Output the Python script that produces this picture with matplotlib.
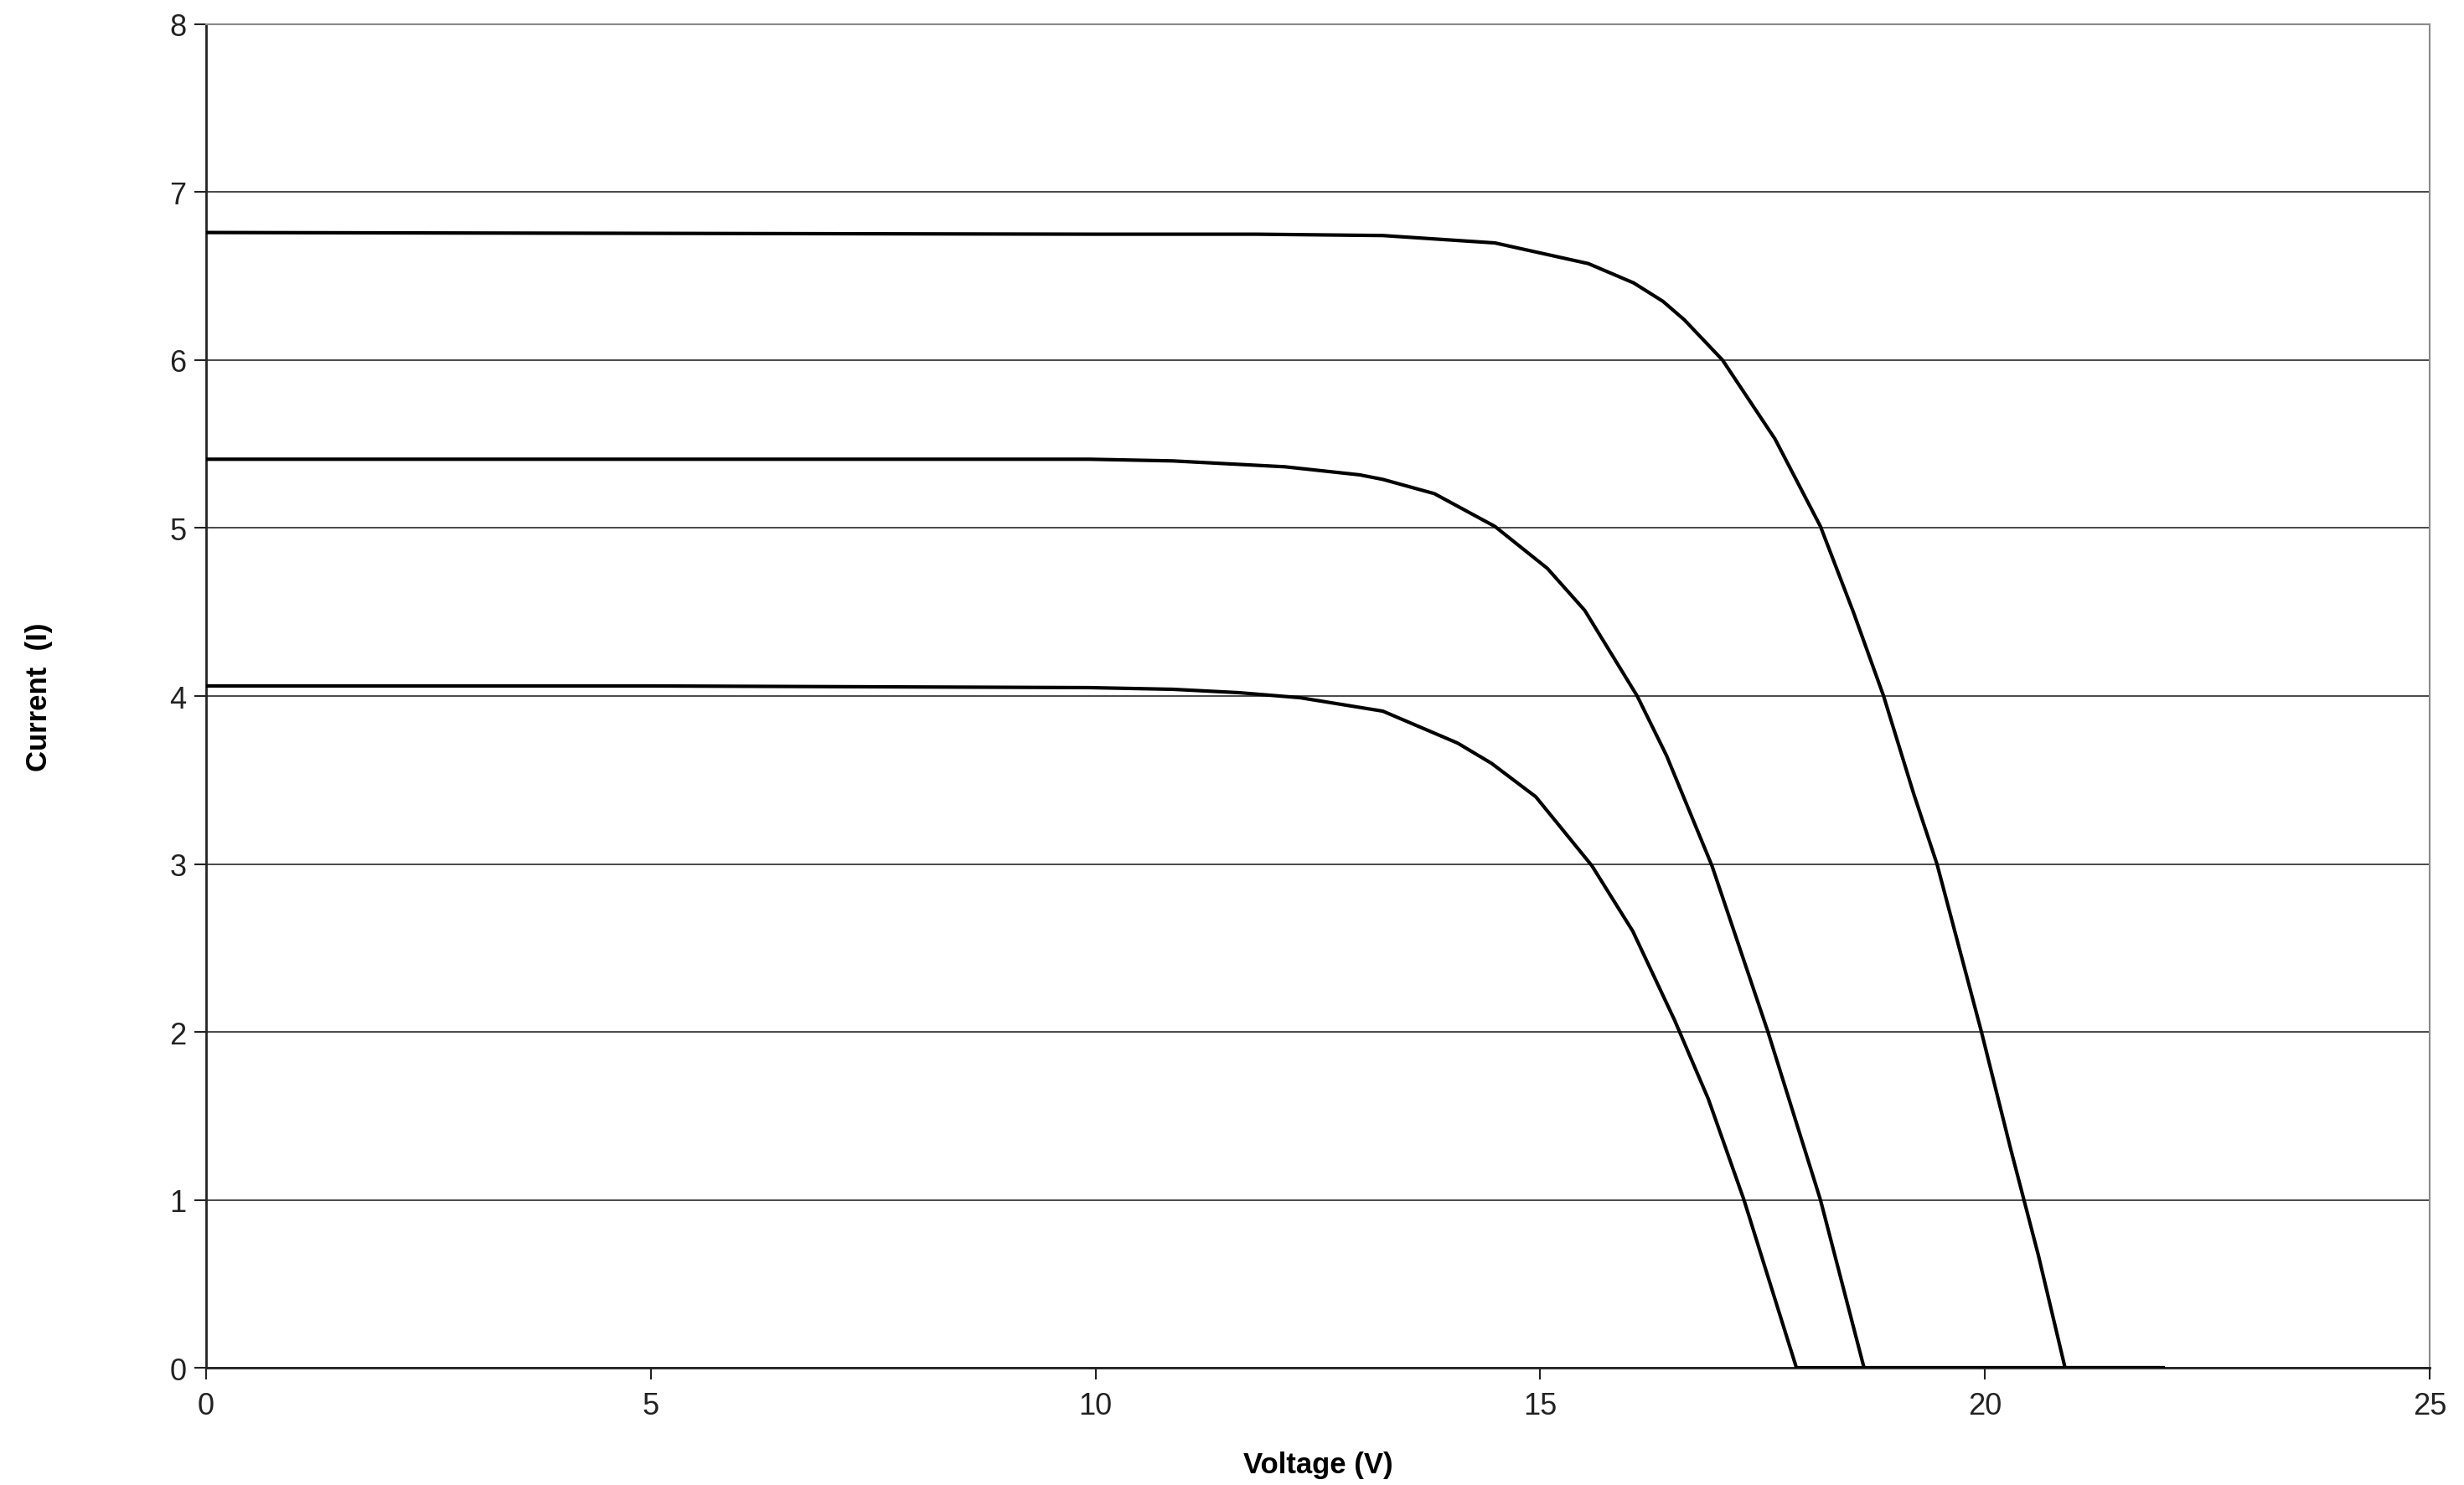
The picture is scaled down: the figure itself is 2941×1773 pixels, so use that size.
import matplotlib
matplotlib.use("Agg")
import matplotlib.pyplot as plt

# Data (Voltage V, Current I)
v_high = [0, 5, 10, 11.81, 13.23, 14.49, 15.54, 16.05, 16.38, 16.62, 17.05, 17.64,
          18.15, 18.52, 18.86, 19.20, 19.46, 19.96, 20.29, 20.60, 20.90, 22.0]
i_high = [6.76, 6.755, 6.75, 6.75, 6.742, 6.698, 6.575, 6.46, 6.35, 6.24, 6.0, 5.53,
          5.01, 4.50, 4.0, 3.415, 3.0, 2.0, 1.30, 0.67, 0.0, 0.0]

v_mid = [0, 5, 9.93, 10.87, 12.13, 12.97, 13.23, 13.81, 14.49, 15.08, 15.50, 16.09,
         16.42, 16.93, 17.56, 18.15, 18.64, 22.0]
i_mid = [5.41, 5.41, 5.41, 5.40, 5.365, 5.317, 5.29, 5.205, 5.01, 4.76, 4.51, 4.0,
         3.645, 2.99, 2.0, 1.0, 0.0, 0.0]

v_low = [0, 5, 9.93, 10.87, 11.61, 12.30, 13.23, 14.07, 14.45, 14.95, 15.58, 16.04,
         16.51, 16.89, 17.29, 17.88, 22.0]
i_low = [4.06, 4.06, 4.05, 4.04, 4.02, 3.99, 3.91, 3.72, 3.60, 3.40, 2.99, 2.60,
         2.07, 1.60, 1.0, 0.0, 0.0]

x_ticks = [0, 5, 10, 15, 20, 25]
y_ticks = [0, 1, 2, 3, 4, 5, 6, 7, 8]

plt.rcParams['font.family'] = ['Liberation Sans', 'DejaVu Sans']

fig = plt.figure(figsize=(29.41, 17.74), dpi=100)
ax = fig.add_axes([0.0836, 0.0789, 0.9025, 0.9042])

ax.set_xlim(0, 25)
ax.set_ylim(0, 8)
ax.set_xticks(x_ticks)
ax.set_yticks(y_ticks)

ax.yaxis.grid(True, color='#3a3a3a', linewidth=1.3)
ax.set_axisbelow(True)

for v, i in [(v_high, i_high), (v_mid, i_mid), (v_low, i_low)]:
    ax.plot(v, i, color='black', linewidth=3.0, clip_on=True, zorder=3,
            solid_joinstyle='round')

for side in ['top', 'right']:
    ax.spines[side].set_color('#8a8a8a')
    ax.spines[side].set_linewidth(1.5)
for side in ['left', 'bottom']:
    ax.spines[side].set_color('#222222')
    ax.spines[side].set_linewidth(2.0)

ax.tick_params(axis='both', direction='out', length=10, width=1.5,
               labelsize=26, colors='#222222', pad=7)
ax.tick_params(axis='x', pad=10)

ax.set_xlabel('Voltage (V)', fontsize=25, fontweight='bold', labelpad=26)
ax.set_ylabel('Current  (I)', fontsize=25, fontweight='bold', labelpad=100)

fig.savefig('out.png', dpi=100, facecolor='white')
